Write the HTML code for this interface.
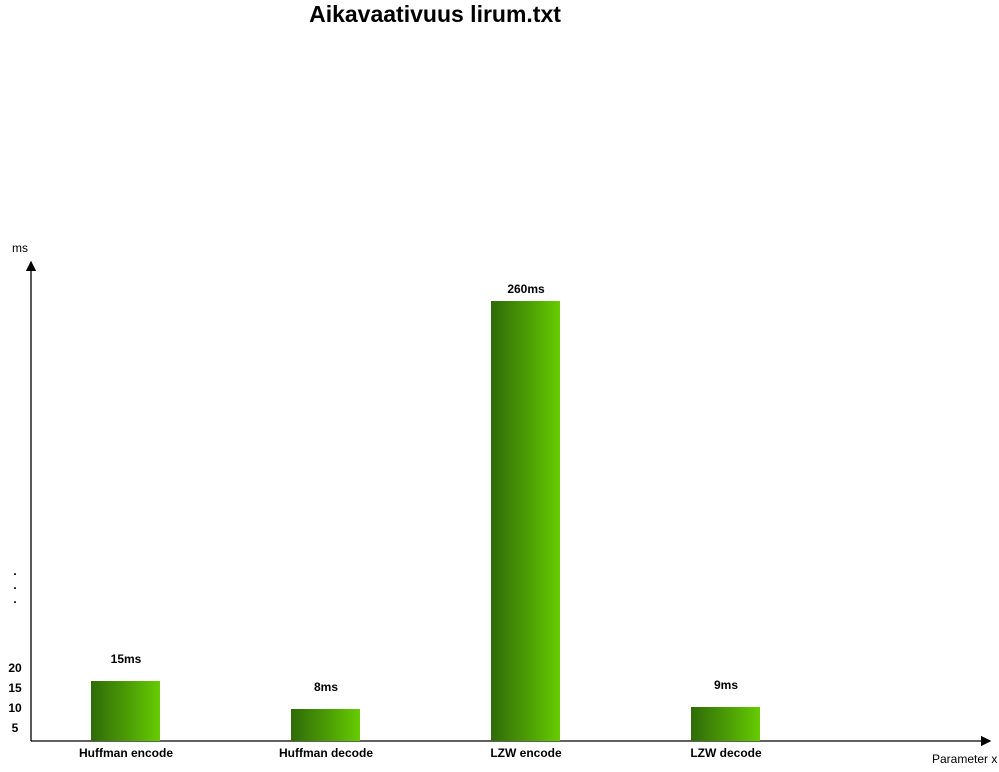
<!DOCTYPE html>
<html><head><meta charset="utf-8"><style>
body{margin:0;background:#fff;font-family:"Liberation Sans",Arial,sans-serif}
svg{display:block}
</style></head><body>
<svg id="c" width="999" height="772">
<defs><linearGradient id="g" x1="0" x2="1" y1="0" y2="0"><stop offset="0" stop-color="#2f6b08"/><stop offset="0.5" stop-color="#4a9a05"/><stop offset="1" stop-color="#66cc00"/></linearGradient>
<marker id="ar" markerWidth="8" markerHeight="8" refX="7" refY="4" orient="auto"><path d="M0,0 L8,4 L0,8 Z" fill="#000"/></marker></defs>
<text x="435" y="22" text-anchor="middle" font-size="23" font-weight="bold">Aikavaativuus lirum.txt</text>
<line x1="31" y1="741" x2="31" y2="262" stroke="#000" stroke-width="1.3" marker-end="url(#ar)"/>
<line x1="31" y1="741" x2="990" y2="741" stroke="#000" stroke-width="1.3" marker-end="url(#ar)"/>
<text x="12" y="252" font-size="12">ms</text>
<text x="932" y="763" font-size="12">Parameter x</text>
<text x="15" y="575" font-size="12" font-weight="bold" text-anchor="middle">.</text>
<text x="15" y="589" font-size="12" font-weight="bold" text-anchor="middle">.</text>
<text x="15" y="603" font-size="12" font-weight="bold" text-anchor="middle">.</text>
</svg>
<script>
const categories=["Huffman encode","Huffman decode","LZW encode","LZW decode"];
const values=[15,8,260,8.5];
const valueLabels=["15ms","8ms","260ms","9ms"];
const yTicks=[5,10,15,20];
const base=741;
function yScale(v){return v<=20?base-v*4:base-80-(v-20)*(360/240);}
function xScale(i){return 91+i*200;}
const svg=document.getElementById('c');
const ns="http://www.w3.org/2000/svg";
yTicks.forEach(t=>{
 const el=document.createElementNS(ns,'text');
 
 
 el.setAttribute('x',15);el.setAttribute('y',yScale(t)+11);
 el.setAttribute('text-anchor','middle');el.setAttribute('font-size','12');el.setAttribute('font-weight','bold');
 el.textContent=t;svg.appendChild(el);
});
categories.forEach((c,i)=>{
 const x=xScale(i),y=yScale(values[i]);
 const r=document.createElementNS(ns,'rect');
 
 
 r.setAttribute('x',x);r.setAttribute('y',y);r.setAttribute('width',69);r.setAttribute('height',base-y);
 r.setAttribute('fill','url(#g)');svg.appendChild(r);
 const v=document.createElementNS(ns,'text');
 
 
 v.setAttribute('x',x+35);v.setAttribute('y',values[i]>20?y-8:y-18);v.setAttribute('text-anchor','middle');
 v.setAttribute('font-size','12');v.setAttribute('font-weight','bold');v.textContent=valueLabels[i];svg.appendChild(v);
 const l=document.createElementNS(ns,'text');
 
 
 l.setAttribute('x',x+35);l.setAttribute('y',757);l.setAttribute('text-anchor','middle');
 l.setAttribute('font-size','12');l.setAttribute('font-weight','bold');l.textContent=c;svg.appendChild(l);
});
</script>
</body></html>
